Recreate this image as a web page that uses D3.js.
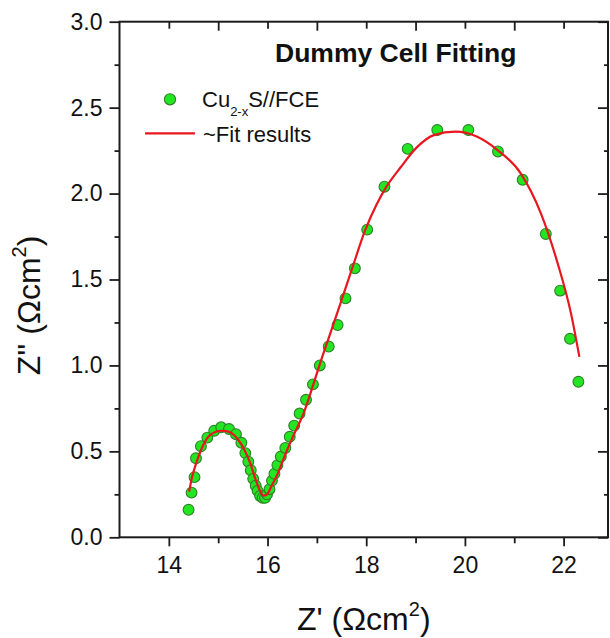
<!DOCTYPE html>
<html>
<head>
<meta charset="utf-8">
<script src="https://cdn.jsdelivr.net/npm/d3@7"></script>
<style>
  html, body { margin: 0; padding: 0; background: #fff; }
  svg { display: block; }
  text { font-family: "Liberation Sans", Arial, sans-serif; fill: #111; }
</style>
</head>
<body>
<svg id="chart" width="610" height="638"></svg>
<script>
// Measured impedance of the Cu2-xS//FCE dummy cell (Z' vs Z'')
const zReal = [14.40, 14.46, 14.52, 14.55, 14.65, 14.78, 14.92, 15.06, 15.22, 15.36,
               15.47, 15.55, 15.61, 15.66, 15.71, 15.76, 15.80, 15.85, 15.90, 15.95,
               15.99, 16.04, 16.09, 16.14, 16.20, 16.27, 16.36, 16.45, 16.54, 16.65,
               16.78, 16.92, 17.06, 17.24, 17.42, 17.58, 17.77, 18.02, 18.37, 18.84,
               19.44, 20.07, 20.67, 21.17, 21.64, 21.93, 22.13, 22.30];
const zImag = [0.16, 0.26, 0.35, 0.46, 0.53, 0.58, 0.62, 0.64, 0.63, 0.60,
               0.55, 0.49, 0.44, 0.39, 0.34, 0.30, 0.27, 0.24, 0.23, 0.23,
               0.25, 0.28, 0.33, 0.37, 0.42, 0.47, 0.52, 0.585, 0.65, 0.72,
               0.80, 0.89, 1.00, 1.11, 1.235, 1.39, 1.565, 1.79, 2.04, 2.26,
               2.37, 2.37, 2.245, 2.08, 1.765, 1.435, 1.155, 0.905];

// Equivalent-circuit fit curve
const fitReal = [14.41, 14.47, 14.53, 14.60, 14.67, 14.80, 14.92, 15.05, 15.16, 15.28,
                 15.41, 15.55, 15.65, 15.75, 15.85, 15.92, 15.99, 16.09, 16.19, 16.29,
                 16.40, 16.53, 16.73, 16.94, 17.12, 17.30, 17.50, 17.71, 17.97, 18.20,
                 18.41, 18.69, 19.03, 19.37, 19.81, 20.25, 20.66, 21.13, 21.54, 21.88,
                 22.15, 22.32];
const fitImag = [0.265, 0.35, 0.41, 0.47, 0.52, 0.585, 0.61, 0.62, 0.618, 0.605,
                 0.566, 0.498, 0.43, 0.343, 0.269, 0.242, 0.25, 0.304, 0.36, 0.43,
                 0.51, 0.595, 0.721, 0.90, 1.06, 1.21, 1.38, 1.56, 1.78, 1.93,
                 2.04, 2.15, 2.27, 2.34, 2.36, 2.33, 2.253, 2.118, 1.885, 1.594,
                 1.303, 1.05];

// Axis ticks
const xMajor = [14, 16, 18, 20, 22];
const xMinor = [15, 17, 19, 21];
const yMajor = [0, 0.5, 1.0, 1.5, 2.0, 2.5, 3.0];
const yMinor = [0.25, 0.75, 1.25, 1.75, 2.25, 2.75];

const titleText = "Dummy Cell Fitting";
const fitLabel = "~Fit results";

const plot = { left: 119.5, right: 608, top: 21.7, bottom: 537.3 };

const svg = d3.select("#chart");
svg.append("rect").attr("width", 610).attr("height", 638).attr("fill", "#fff");

const x = d3.scaleLinear().domain([13, 22.9]).range([plot.left, plot.right]);
const y = d3.scaleLinear().domain([0, 3]).range([plot.bottom, plot.top]);

const axisColor = "#1c1c1c";
function styleAxis(g) {
  g.select(".domain").remove();
  g.selectAll(".tick line").attr("stroke", axisColor).attr("stroke-width", 1.8);
  g.selectAll(".tick text")
    .style("font-family", '"Liberation Sans", Arial, sans-serif')
    .style("font-size", "23px")
    .attr("fill", "#111");
}

// bottom axis
svg.append("g").attr("transform", `translate(0,${plot.bottom})`)
  .call(d3.axisBottom(x).tickValues(xMajor).tickSize(9).tickPadding(10).tickFormat(d3.format("d")))
  .call(styleAxis);
svg.append("g").attr("transform", `translate(0,${plot.bottom})`)
  .call(d3.axisBottom(x).tickValues(xMinor).tickSize(6).tickFormat(""))
  .call(styleAxis);

// top axis (ticks inward)
svg.append("g").attr("transform", `translate(0,${plot.top})`)
  .call(d3.axisTop(x).tickValues(xMajor).tickSize(-7).tickFormat(""))
  .call(styleAxis);
svg.append("g").attr("transform", `translate(0,${plot.top})`)
  .call(d3.axisTop(x).tickValues(xMinor).tickSize(-9).tickFormat(""))
  .call(styleAxis);

// left axis
svg.append("g").attr("transform", `translate(${plot.left},0)`)
  .call(d3.axisLeft(y).tickValues(yMajor).tickSize(10).tickPadding(7).tickFormat(d3.format(".1f")))
  .call(styleAxis);
svg.append("g").attr("transform", `translate(${plot.left},0)`)
  .call(d3.axisLeft(y).tickValues(yMinor).tickSize(5).tickFormat(""))
  .call(styleAxis);

// right axis (ticks inward)
svg.append("g").attr("transform", `translate(${plot.right},0)`)
  .call(d3.axisRight(y).tickValues(yMajor).tickSize(-10).tickFormat(""))
  .call(styleAxis);
svg.append("g").attr("transform", `translate(${plot.right},0)`)
  .call(d3.axisRight(y).tickValues(yMinor).tickSize(-4).tickFormat(""))
  .call(styleAxis);

// frame
svg.append("rect")
  .attr("x", plot.left).attr("y", plot.top)
  .attr("width", plot.right - plot.left).attr("height", plot.bottom - plot.top)
  .attr("fill", "none").attr("stroke", axisColor).attr("stroke-width", 2);

// data points
const pts = zReal.map((v, i) => [v, zImag[i]]);
const dotFill = "#22e622";
const dotStroke = "#2f7f2a";
svg.append("g").selectAll("circle").data(pts).join("circle")
  .attr("cx", d => x(d[0])).attr("cy", d => y(d[1])).attr("r", 5.4)
  .attr("fill", dotFill).attr("stroke", dotStroke).attr("stroke-width", 1.1);

// fit line
const fit = fitReal.map((v, i) => [v, fitImag[i]]);
const line = d3.line().x(d => x(d[0])).y(d => y(d[1])).curve(d3.curveMonotoneX);
svg.append("path").datum(fit).attr("d", line)
  .attr("fill", "none").attr("stroke", "#e8161e").attr("stroke-width", 2.2);

// chart title
svg.append("text").attr("x", 275).attr("y", 62)
  .style("font-size", "26.5px").style("font-weight", "bold").text(titleText);

// legend
svg.append("circle").attr("cx", 170).attr("cy", 99.3).attr("r", 5.6)
  .attr("fill", dotFill).attr("stroke", dotStroke).attr("stroke-width", 1.1);
const lg = svg.append("text").attr("x", 202).attr("y", 107).style("font-size", "22px");
lg.append("tspan").text("Cu");
lg.append("tspan").attr("dy", 9).style("font-size", "13px").text("2-x");
lg.append("tspan").attr("dy", -9).text("S//FCE");

svg.append("line").attr("x1", 145).attr("x2", 195).attr("y1", 133.3).attr("y2", 133.3)
  .attr("stroke", "#e8161e").attr("stroke-width", 2.2);
svg.append("text").attr("x", 203).attr("y", 141.5).style("font-size", "22px").text(fitLabel);

// axis titles
const xt = svg.append("text").attr("x", (plot.left + plot.right) / 2).attr("y", 630)
  .attr("text-anchor", "middle").style("font-size", "32px");
xt.append("tspan").text("Z' (\u03A9cm");
xt.append("tspan").attr("dy", -14).style("font-size", "20px").text("2");
xt.append("tspan").attr("dy", 14).text(")");

const yt = svg.append("text")
  .attr("transform", `translate(40,${(plot.top + plot.bottom) / 2 + 26}) rotate(-90)`)
  .attr("text-anchor", "middle").style("font-size", "32px");
yt.append("tspan").text("Z'' (\u03A9cm");
yt.append("tspan").attr("dy", -14).style("font-size", "20px").text("2");
yt.append("tspan").attr("dy", 14).text(")");
</script>
</body>
</html>
